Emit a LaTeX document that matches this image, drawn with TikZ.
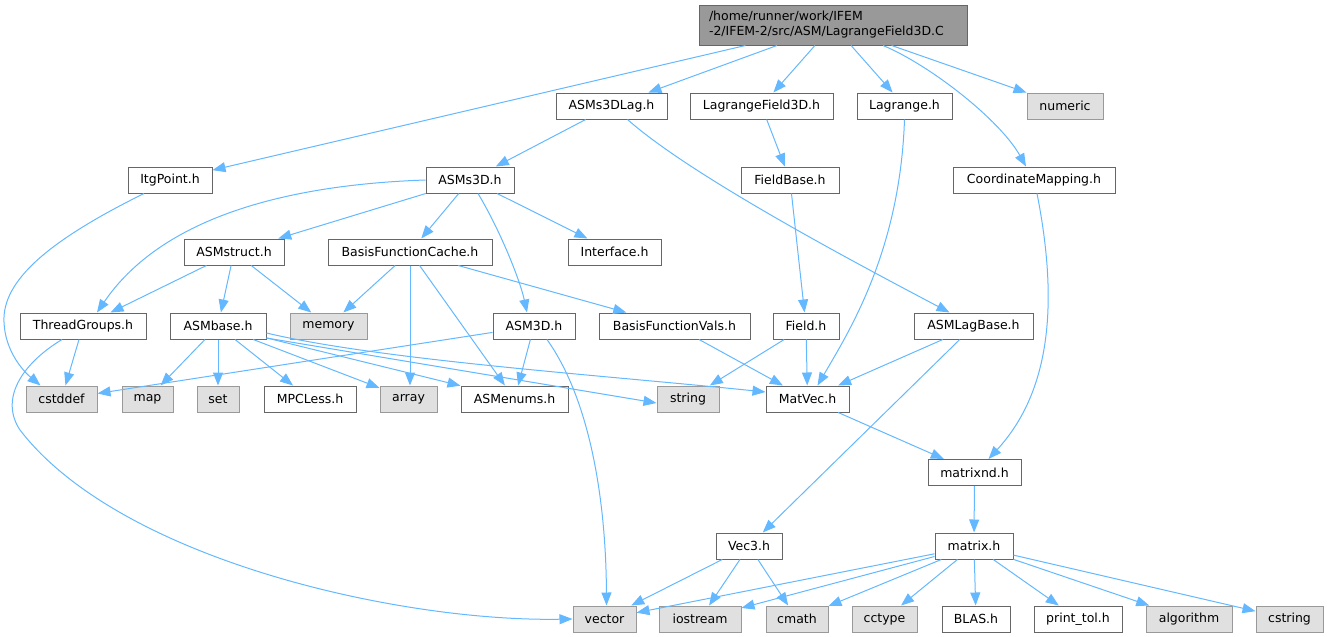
\documentclass[tikz,border=0pt]{standalone}
\usepackage{fontspec}
\setmainfont{DejaVu Sans}
\usepackage{tikz}
\usetikzlibrary{arrows.meta}

\definecolor{edgeblue}{HTML}{63B8FF}
\definecolor{boxline}{HTML}{666666}
\definecolor{sysline}{HTML}{999999}
\definecolor{sysfill}{HTML}{E0E0E0}
\definecolor{mainfill}{HTML}{999999}

\begin{document}
\begin{tikzpicture}[
    x=1pt, y=-1pt,
    every node/.style={rectangle, draw, align=center, line width=1pt, inner sep=2pt,
        minimum height=26pt, font=\fontsize{12.5}{15}\selectfont},
    header/.style={draw=boxline, fill=white},
    sysheader/.style={draw=sysline, fill=sysfill},
    source/.style={draw=boxline, fill=mainfill, align=left, text width=248pt,
        inner xsep=10pt, minimum height=40pt},
    dep/.style={-{Triangle[length=13pt, width=10pt]}, edgeblue, line width=1pt}
]
\useasboundingbox (0,0) rectangle (1328,637);

% top row
\node[source] (main) at (833,25) {/home/runner/work/IFEM\\-2/IFEM-2/src/ASM/LagrangeField3D.C};
\node[header, minimum width=111pt] (asms3dlag) at (611.5,106) {ASMs3DLag.h};
\node[header, minimum width=143pt] (lagfield) at (761.5,106) {LagrangeField3D.h};
\node[header, minimum width=95pt] (lagrange) at (904.5,106) {Lagrange.h};
\node[sysheader, minimum width=76pt] (numeric) at (1065,106) {numeric};

\node[header, minimum width=84pt] (itgpoint) at (170,180) {ItgPoint.h};
\node[header, minimum width=88pt] (asms3d) at (470,180) {ASMs3D.h};
\node[header, minimum width=98pt] (fieldbase) at (790,180) {FieldBase.h};
\node[header, minimum width=162pt] (coordmap) at (1034,180) {CoordinateMapping.h};

\node[header, minimum width=100pt] (asmstruct) at (234,252) {ASMstruct.h};
\node[header, minimum width=164pt] (bfcache) at (410,252) {BasisFunctionCache.h};
\node[header, minimum width=93pt] (interface) at (614.5,252) {Interface.h};

\node[header, minimum width=126pt] (threadgroups) at (83,326) {ThreadGroups.h};
\node[header, minimum width=96pt] (asmbase) at (218,326) {ASMbase.h};
\node[sysheader, minimum width=77pt] (memory) at (328.5,326) {memory};
\node[header, minimum width=82pt] (asm3d) at (534,326) {ASM3D.h};
\node[header, minimum width=151pt] (bfvals) at (674.5,326) {BasisFunctionVals.h};
\node[header, minimum width=66pt] (field) at (806,326) {Field.h};
\node[header, minimum width=119pt] (asmlagbase) at (973.5,326) {ASMLagBase.h};

\node[sysheader, minimum width=71pt] (cstddef) at (61.5,399) {cstddef};
\node[sysheader, minimum width=51pt] (map) at (147.5,399) {map};
\node[sysheader, minimum width=42pt] (set) at (218,399) {set};
\node[header, minimum width=92pt] (mpcless) at (310,399) {MPCLess.h};
\node[sysheader, minimum width=57pt] (array) at (408.5,399) {array};
\node[header, minimum width=107pt] (asmenums) at (514.5,399) {ASMenums.h};
\node[sysheader, minimum width=62pt] (string) at (688,399) {string};
\node[header, minimum width=83pt] (matvec) at (807.5,399) {MatVec.h};

\node[header, minimum width=93pt] (matrixnd) at (974.5,472.5) {matrixnd.h};
\node[header, minimum width=66pt] (vec3) at (749,546) {Vec3.h};
\node[header, minimum width=78pt] (matrix) at (974,546) {matrix.h};

% bottom row
\node[sysheader, minimum width=63pt] (vector) at (604.5,619) {vector};
\node[sysheader, minimum width=82pt] (iostream) at (700,619) {iostream};
\node[sysheader, minimum width=62pt] (cmath) at (797,619) {cmath};
\node[sysheader, minimum width=65pt] (cctype) at (884.5,619) {cctype};
\node[header, minimum width=68pt] (blas) at (976,619) {BLAS.h};
\node[header, minimum width=88pt] (printtol) at (1078,619) {print\_tol.h};
\node[sysheader, minimum width=86pt] (algorithm) at (1189,619) {algorithm};
\node[sysheader, minimum width=67pt] (cstring) at (1289.5,619) {cstring};

% includes of the source file
\draw[dep] (main) -- (itgpoint);
\draw[dep] (main) -- (asms3dlag);
\draw[dep] (main) -- (lagfield);
\draw[dep] (main) -- (lagrange);
\draw[dep] (main) -- (numeric);
\draw[dep] ([xshift=50pt]main.south) .. controls (930,65) and (1000,120) .. ([xshift=-8pt]coordmap.north);

\draw[dep] (asms3dlag) -- (asms3d);
\draw[dep] ([xshift=16pt]asms3dlag.south) .. controls (690,175) and (850,260) .. ([xshift=-24pt]asmlagbase.north);
\draw[dep] (lagfield) -- (fieldbase);
\draw[dep] (lagrange.south) .. controls (900,250) and (850,330) .. ([xshift=10pt]matvec.north);
\draw[dep] ([xshift=3pt]coordmap.south) .. controls (1058,300) and (1052,390) .. ([xshift=14pt]matrixnd.north);
\draw[dep] ([xshift=-26pt]itgpoint.south) .. controls (50,240) and (2,280) .. (4,322) .. controls (5,350) and (22,370) .. ([xshift=-21pt]cstddef.north);

\draw[dep] (asms3d.west) .. controls (280,185) and (160,220) .. ([xshift=14pt]threadgroups.north);
\draw[dep] (asms3d) -- (asmstruct);
\draw[dep] (asms3d) -- (bfcache);
\draw[dep] ([xshift=8pt]asms3d.south) .. controls (500,230) and (520,280) .. ([xshift=-7pt]asm3d.north);
\draw[dep] (asms3d) -- (interface);
\draw[dep] (fieldbase) -- (field);

\draw[dep] (asmstruct) -- (threadgroups);
\draw[dep] (asmstruct) -- (asmbase);
\draw[dep] (asmstruct) -- (memory);
\draw[dep] (bfcache) -- (memory);
\draw[dep] (bfcache.south) -- (array.north -| bfcache.south);
\draw[dep] (bfcache) -- (asmenums);
\draw[dep] (bfcache) -- (bfvals);

\draw[dep] (threadgroups) -- (cstddef);
\draw[dep] ([xshift=-21pt]threadgroups.south) .. controls (20,365) and (0,400) .. (20,430) .. controls (120,560) and (400,622) .. (vector.west);
\draw[dep] (asmbase) -- (map);
\draw[dep] (asmbase) -- (set);
\draw[dep] (asmbase) -- (mpcless);
\draw[dep] (asmbase) -- (array);
\draw[dep] (asmbase) -- (asmenums);
\draw[dep] ([yshift=-12pt]asmbase.east) -- ([yshift=-4pt]string.west);
\draw[dep] ([yshift=-7pt]asmbase.east) .. controls (380,360) and (600,375) .. ([yshift=7pt]matvec.west);
\draw[dep] (asm3d) -- (cstddef);
\draw[dep] (asm3d) -- (asmenums);
\draw[dep] ([xshift=13pt]asm3d.south) .. controls (590,400) and (606,500) .. ([xshift=2pt]vector.north);
\draw[dep] (bfvals) -- (matvec);
\draw[dep] (field) -- (string);
\draw[dep] (field) -- (matvec);
\draw[dep] (asmlagbase) -- (matvec);
\draw[dep] (asmlagbase) -- (vec3);

\draw[dep] (matvec) -- (matrixnd);
\draw[dep] (matrixnd) -- (matrix);

\draw[dep] (vec3) -- (vector);
\draw[dep] (vec3) -- (iostream);
\draw[dep] (vec3) -- (cmath);
\draw[dep] (matrix) -- (vector);
\draw[dep] (matrix) -- (iostream);
\draw[dep] (matrix) -- (cmath);
\draw[dep] (matrix) -- (cctype);
\draw[dep] (matrix) -- (blas);
\draw[dep] (matrix) -- (printtol);
\draw[dep] (matrix) -- (algorithm);
\draw[dep] (matrix) -- (cstring);

\end{tikzpicture}
\end{document}
